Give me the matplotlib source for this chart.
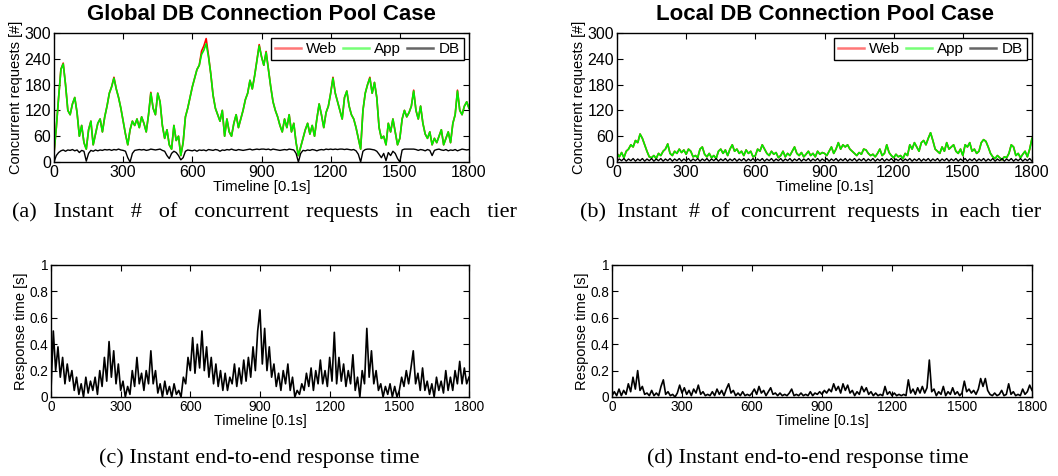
import numpy as np
import matplotlib
matplotlib.use("Agg")
import matplotlib.pyplot as plt

# ---------------- data (sampled every 10 timeline units, 0..1800) ----------------
timeline = np.arange(0, 1801, 10)

app_global = [
    20, 80, 150, 215, 228, 180, 120, 110, 135, 150,
    115, 60, 85, 45, 30, 75, 95, 40, 65, 90,
    100, 70, 105, 130, 160, 175, 195, 170, 150, 125,
    95, 65, 40, 75, 95, 85, 100, 80, 105, 90,
    70, 110, 160, 125, 110, 160, 140, 85, 55, 75,
    40, 30, 85, 50, 60, 15, 45, 105, 125, 150,
    175, 195, 215, 225, 250, 260, 275, 245, 205, 155,
    125, 110, 95, 120, 60, 100, 70, 60, 90, 110,
    80, 100, 120, 145, 160, 190, 170, 200, 235, 270,
    245, 225, 255, 215, 175, 140, 120, 105, 85, 70,
    100, 80, 110, 70, 90, 45, 15, 35, 55, 75,
    90, 65, 85, 60, 100, 135, 110, 80, 115, 130,
    160, 195, 160, 140, 120, 100, 150, 165, 130, 110,
    100, 80, 55, 30, 120, 160, 180, 195, 160, 185,
    150, 80, 55, 60, 40, 90, 70, 100, 70, 40,
    55, 100, 120, 105, 115, 130, 165, 120, 100, 130,
    90, 65, 55, 70, 40, 55, 45, 60, 75, 40,
    55, 70, 45, 90, 110, 165, 120, 110, 130, 140,
    125]

web_global = [
    20, 80, 150, 216, 230, 180, 120, 110, 135, 150,
    115, 60, 85, 45, 30, 75, 95, 40, 65, 90,
    100, 70, 105, 130, 160, 175, 197, 170, 150, 125,
    95, 65, 40, 75, 95, 85, 100, 80, 105, 90,
    70, 110, 162, 125, 110, 160, 140, 85, 55, 75,
    40, 30, 85, 50, 60, 15, 45, 105, 125, 150,
    175, 195, 215, 225, 258, 270, 287, 248, 205, 155,
    125, 110, 95, 120, 60, 100, 70, 60, 90, 110,
    80, 100, 120, 145, 160, 190, 170, 200, 236, 273,
    245, 225, 257, 215, 175, 140, 120, 105, 85, 70,
    100, 80, 110, 70, 90, 45, 15, 35, 55, 75,
    90, 65, 85, 60, 100, 135, 110, 80, 115, 130,
    160, 197, 160, 140, 120, 100, 150, 165, 130, 110,
    100, 80, 55, 30, 120, 160, 180, 197, 160, 185,
    150, 80, 55, 60, 40, 90, 70, 100, 70, 40,
    55, 100, 120, 105, 115, 130, 167, 120, 100, 130,
    90, 65, 55, 70, 40, 55, 45, 60, 75, 40,
    55, 70, 45, 90, 110, 167, 120, 110, 130, 140,
    125]

db_global = [
    0, 15, 22, 26, 28, 25, 28, 27, 29, 26,
    28, 22, 27, 25, 2, 20, 27, 25, 28, 26,
    28, 27, 29, 28, 29, 27, 29, 28, 30, 28,
    27, 25, 10, 0, 20, 27, 28, 29, 28, 29,
    27, 28, 30, 29, 28, 29, 30, 27, 25, 15,
    8, 20, 25, 22, 15, 5, 10, 25, 28, 27,
    26, 28, 25, 28, 27, 28, 26, 29, 28, 27,
    29, 28, 25, 28, 27, 29, 28, 30, 28, 27,
    29, 28, 27, 28, 29, 30, 28, 29, 30, 29,
    30, 30, 29, 30, 28, 30, 29, 28, 27, 28,
    29, 28, 30, 29, 28, 20, 0, 20, 27, 26,
    28, 27, 29, 28, 26, 28, 29, 28, 30, 29,
    30, 29, 30, 29, 30, 30, 29, 30, 29, 28,
    29, 26, 18, 0, 25, 29, 30, 30, 29, 28,
    25, 18, 10, 20, 3, 22, 15, 25, 20, 8,
    0, 28, 30, 30, 30, 30, 30, 29, 27, 29,
    28, 26, 29, 27, 15, 27, 29, 30, 28, 27,
    29, 26, 28, 27, 29, 26, 28, 30, 29, 28,
    29]

app_local = [
    20, 12, 22, 10, 25, 30, 40, 35, 50, 45,
    65, 55, 40, 25, 12, 10, 15, 8, 20, 15,
    25, 30, 42, 20, 15, 25, 20, 30, 22, 28,
    18, 30, 25, 12, 15, 10, 30, 35, 18, 12,
    20, 10, 15, 8, 25, 30, 20, 28, 15, 30,
    40, 25, 30, 20, 25, 15, 28, 20, 25, 12,
    15, 30, 25, 40, 30, 20, 15, 25, 18, 22,
    10, 15, 25, 12, 20, 15, 25, 35, 20, 15,
    22, 12, 18, 25, 15, 20, 12, 25, 18, 22,
    20, 15, 25, 35, 20, 30, 45, 30, 40, 35,
    40, 30, 25, 20, 15, 22, 18, 30, 28, 20,
    15, 18, 12, 20, 30, 15, 20, 40, 22, 15,
    10, 18, 12, 15, 8, 20, 15, 40, 30, 45,
    35, 25, 45, 50, 40, 55, 68, 50, 30, 25,
    20, 35, 25, 45, 30, 35, 40, 25, 20, 30,
    15, 40, 35, 45, 25, 30, 20, 25, 45, 52,
    48, 35, 20, 12, 8, 15, 10, 5, 12, 10,
    20, 40, 35, 15, 20, 10, 18, 25, 12, 30,
    55]

web_local = list(app_local)

db_local = [
    2, 7, 3, 8, 2, 7, 3, 8, 2, 7,
    3, 8, 2, 7, 3, 8, 2, 7, 3, 8,
    2, 7, 3, 8, 2, 7, 3, 8, 2, 7,
    3, 8, 2, 7, 3, 8, 2, 7, 3, 8,
    2, 7, 3, 8, 2, 7, 3, 8, 2, 7,
    3, 8, 2, 7, 3, 8, 2, 7, 3, 8,
    2, 7, 3, 8, 2, 7, 3, 8, 2, 7,
    3, 8, 2, 7, 3, 8, 2, 7, 3, 8,
    2, 7, 3, 8, 2, 7, 3, 8, 2, 7,
    3, 8, 2, 7, 3, 8, 2, 7, 3, 8,
    2, 7, 3, 8, 2, 7, 3, 8, 2, 7,
    3, 8, 2, 7, 3, 8, 2, 7, 3, 8,
    2, 7, 3, 8, 2, 7, 3, 8, 2, 7,
    3, 8, 2, 7, 3, 8, 2, 7, 3, 8,
    2, 7, 3, 8, 2, 7, 3, 8, 2, 7,
    3, 8, 2, 7, 3, 8, 2, 7, 3, 8,
    2, 7, 3, 8, 2, 7, 3, 8, 2, 7,
    3, 8, 2, 7, 3, 8, 2, 7, 3, 8,
    2]

rt_global = [
    0.05, 0.5, 0.2, 0.38, 0.15, 0.3, 0.1, 0.25, 0.12, 0.2,
    0.05, 0.15, 0.02, 0.1, 0.0, 0.15, 0.03, 0.12, 0.05, 0.15,
    0.02, 0.2, 0.08, 0.3, 0.12, 0.42, 0.15, 0.35, 0.1, 0.25,
    0.05, 0.12, 0.0, 0.08, 0.02, 0.2, 0.08, 0.3, 0.1, 0.18,
    0.05, 0.2, 0.1, 0.35, 0.1, 0.2, 0.03, 0.1, 0.0, 0.12,
    0.02, 0.08, 0.0, 0.1, 0.02, 0.05, 0.0, 0.15, 0.1, 0.3,
    0.2, 0.45, 0.18, 0.4, 0.22, 0.5, 0.2, 0.38, 0.15, 0.3,
    0.1, 0.25, 0.08, 0.2, 0.05, 0.18, 0.05, 0.15, 0.1, 0.25,
    0.08, 0.22, 0.1, 0.28, 0.12, 0.3, 0.15, 0.38, 0.2, 0.5,
    0.66, 0.25, 0.52, 0.2, 0.38, 0.15, 0.25, 0.08, 0.18, 0.05,
    0.2, 0.1, 0.25, 0.05, 0.15, 0.0, 0.05, 0.02, 0.1, 0.05,
    0.18, 0.08, 0.22, 0.05, 0.2, 0.1, 0.28, 0.1, 0.2, 0.08,
    0.3, 0.12, 0.49, 0.1, 0.3, 0.12, 0.25, 0.08, 0.2, 0.1,
    0.32, 0.05, 0.15, 0.0, 0.2, 0.1, 0.52, 0.15, 0.35, 0.1,
    0.2, 0.05, 0.1, 0.0, 0.08, 0.02, 0.1, 0.0, 0.08, 0.0,
    0.05, 0.15, 0.08, 0.2, 0.1, 0.22, 0.35, 0.1, 0.18, 0.05,
    0.22, 0.05, 0.12, 0.02, 0.1, 0.0, 0.15, 0.05, 0.12, 0.03,
    0.2, 0.05, 0.15, 0.05, 0.2, 0.1, 0.27, 0.1, 0.22, 0.1,
    0.15]

rt_local = [
    0.01, 0.04, 0.01, 0.06, 0.01, 0.05, 0.02, 0.1, 0.04, 0.15,
    0.06, 0.2, 0.05, 0.08, 0.02, 0.03, 0.01, 0.05, 0.01, 0.03,
    0.01, 0.08, 0.13, 0.02, 0.04, 0.01, 0.02, 0.0, 0.03, 0.09,
    0.03, 0.07, 0.02, 0.05, 0.01, 0.06, 0.03, 0.09, 0.02, 0.04,
    0.01, 0.02, 0.01, 0.04, 0.01, 0.06, 0.02, 0.05, 0.01, 0.06,
    0.1, 0.03, 0.05, 0.01, 0.03, 0.01, 0.04, 0.01, 0.02, 0.01,
    0.03, 0.06, 0.02, 0.08, 0.03, 0.05, 0.01, 0.04, 0.07, 0.02,
    0.03, 0.01, 0.03, 0.01, 0.02, 0.01, 0.03, 0.06, 0.01, 0.02,
    0.01, 0.03, 0.01, 0.02, 0.01, 0.04, 0.01, 0.03, 0.02, 0.04,
    0.02, 0.05, 0.03, 0.06, 0.04, 0.1, 0.05, 0.08, 0.03, 0.1,
    0.05, 0.09, 0.03, 0.05, 0.01, 0.04, 0.02, 0.08, 0.04, 0.07,
    0.02, 0.04, 0.01, 0.03, 0.01, 0.02, 0.01, 0.08, 0.02, 0.04,
    0.01, 0.03, 0.01, 0.02, 0.01, 0.02, 0.01, 0.13, 0.03, 0.06,
    0.02, 0.07, 0.03, 0.08, 0.03, 0.07, 0.28, 0.04, 0.06, 0.01,
    0.04, 0.02, 0.08, 0.01, 0.04, 0.02, 0.07, 0.02, 0.04, 0.01,
    0.03, 0.12, 0.04, 0.06, 0.03, 0.05, 0.02, 0.06, 0.14, 0.08,
    0.14, 0.05, 0.02, 0.01, 0.03, 0.01, 0.02, 0.05, 0.01, 0.02,
    0.1, 0.02, 0.04, 0.01, 0.02, 0.01, 0.06, 0.02, 0.04, 0.09,
    0.05]

titles = ["Global DB Connection Pool Case", "Local DB Connection Pool Case"]
captions = ["(a)   Instant   #   of   concurrent   requests   in   each   tier",
            "(b)  Instant  #  of  concurrent  requests  in  each  tier",
            "(c) Instant end-to-end response time",
            "(d) Instant end-to-end response time"]
x_ticks = [0, 300, 600, 900, 1200, 1500, 1800]
req_ticks = [0, 60, 120, 180, 240, 300]
rt_ticks = [0, 0.2, 0.4, 0.6, 0.8, 1]
rt_tick_labels = ["0", "0.2", "0.4", "0.6", "0.8", "1"]

# ---------------- figure ----------------
plt.rcParams['font.family'] = ['Liberation Sans', 'DejaVu Sans']
W, H = 1058, 476
fig = plt.figure(figsize=(W / 100, H / 100), dpi=100)

def rect(l, t, r, b):
    return [l / W, 1 - b / H, (r - l) / W, (b - t) / H]

def style(ax, fs):
    ax.tick_params(direction='in', length=4, width=0.8, top=True, right=True,
                   labelsize=fs, pad=2, colors='black')
    for s in ax.spines.values():
        s.set_linewidth(1.0)
        s.set_color('black')

top_axes = [fig.add_axes(rect(54, 33, 469, 162)), fig.add_axes(rect(617, 33, 1032, 162))]
bot_axes = [fig.add_axes(rect(51, 265, 469, 397)), fig.add_axes(rect(612, 265, 1032, 397))]

series = [(web_global, app_global, db_global), (web_local, app_local, db_local)]
for i, ax in enumerate(top_axes):
    web, app, db = series[i]
    ax.plot(timeline, web, color='#ff0000', lw=1.2, label='Web')
    ax.plot(timeline, app, color='#00ee00', lw=1.2, label='App')
    ax.plot(timeline, db, color='black', lw=1.0, label='DB')
    ax.set_xlim(0, 1800)
    ax.set_ylim(0, 300)
    ax.set_xticks(x_ticks)
    ax.set_yticks(req_ticks)
    style(ax, 11.5)
    ax.set_xlabel("Timeline [0.1s]", fontsize=10.8, labelpad=0)
    ax.set_ylabel("Concurrent requests [#]", fontsize=10.5, labelpad=1)
    ax.set_title(titles[i], fontsize=16, fontweight='bold', pad=9)
    leg = ax.legend(loc='upper right', ncol=3, fontsize=11, frameon=True,
                    fancybox=False, edgecolor='black', framealpha=1,
                    handlelength=1.7, handletextpad=0.35, columnspacing=0.4,
                    borderpad=0.25, borderaxespad=0.35)
    leg.get_frame().set_linewidth(1.0)
    for ln, c in zip(leg.get_lines(), ['#ff7777', '#77ff77', '#666666']):
        ln.set_color(c)
        ln.set_linewidth(1.8)

rts = [rt_global, rt_local]
for i, ax in enumerate(bot_axes):
    ax.plot(timeline, rts[i], color='black', lw=1.2)
    ax.set_xlim(0, 1800)
    ax.set_ylim(0, 1)
    ax.set_xticks(x_ticks)
    ax.set_yticks(rt_ticks)
    ax.set_yticklabels(rt_tick_labels)
    style(ax, 9.8)
    ax.set_xlabel("Timeline [0.1s]", fontsize=10.3, labelpad=0)
    ax.set_ylabel("Response time [s]", fontsize=10.5, labelpad=1)

cap_font = ['Liberation Serif', 'DejaVu Serif']
cap_pos = [(264, 212), (811, 212), (259, 458), (808, 458)]
for (cx, cy), txt in zip(cap_pos, captions):
    fig.text(cx / W, 1 - cy / H, txt, ha='center', va='center',
             fontsize=16, family=cap_font)

fig.savefig("out.png", dpi=100)
